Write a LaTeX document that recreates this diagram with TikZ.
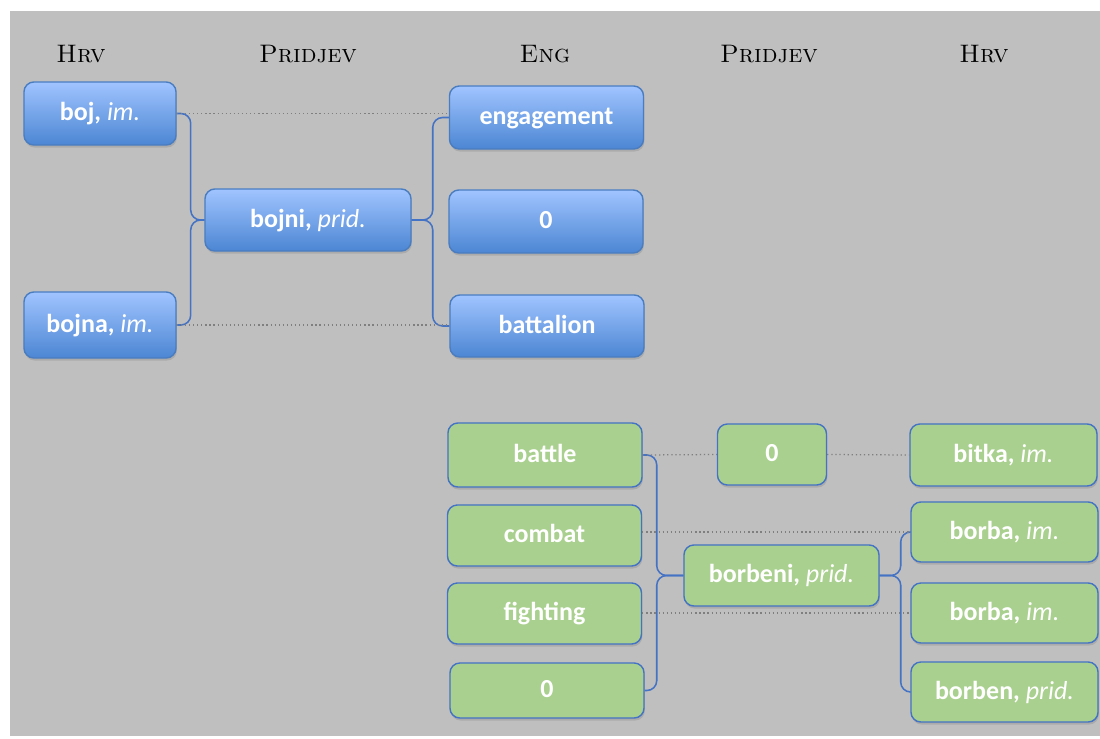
\documentclass[tikz,border=0pt]{standalone}
\usepackage{fontspec}
\newfontfamily\boxfont{Carlito}
\usepackage{xcolor}
\usepackage{tikz}
\usetikzlibrary{positioning,shadows,calc}
\definecolor{bggray}{HTML}{BFBFBF}
\definecolor{bluetop}{HTML}{A0C4FF}
\definecolor{bluebot}{HTML}{4C86D3}
\definecolor{blueedge}{HTML}{4A7DC0}
\definecolor{greenfill}{HTML}{A9D08E}
\definecolor{greenedge}{HTML}{4472C4}
\definecolor{linkblue}{HTML}{4472C4}
\definecolor{dotgray}{HTML}{7F7F7F}
\newcommand{\wclass}[1]{{\mdseries\itshape #1}}
\tikzset{
  wordbox/.style={
    rectangle, rounded corners=7pt, draw=#1, line width=1pt,
    font=\boxfont\bfseries\fontsize{18.5}{21}\selectfont,
    text=white, align=center, inner sep=2pt,
    text height=1.1em, text depth=0.1em,
    drop shadow={shadow xshift=0.6pt, shadow yshift=-1.8pt, opacity=0.3}
  },
  wordbox/.default=greenedge,
  bluebox/.style={
    wordbox=blueedge, top color=bluetop, bottom color=bluebot
  },
  greenbox/.style={
    wordbox=greenedge, fill=greenfill
  },
  colhead/.style={
    font=\fontsize{18}{21}\selectfont\scshape, text=black, anchor=base
  },
  linkline/.style={
    draw=linkblue, line width=1.1pt, rounded corners=7pt
  },
  gloss/.style={
    draw=dotgray, dotted, line width=0.9pt
  },
}

\begin{document}
\begin{tikzpicture}[x=0.025cm, y=-0.025cm,
  engcol/.style={minimum width=4.85cm, minimum height=1.55cm},
  hrvcol/.style={minimum width=4.675cm, minimum height=1.5cm}]

  \useasboundingbox (0,0) rectangle (1100,738);
  \fill[bggray] (10,11) rectangle (1100,736);

  % ── Column heads ────────────────
  \node[colhead] (hdrHrvA) at (81,62) {Hrv};
  \node[colhead] (hdrPridA) at (308,62) {Pridjev};
  \node[colhead] (hdrEng) at (545,62) {Eng};
  \node[colhead] (hdrPridB) at (769,62) {Pridjev};
  \node[colhead] (hdrHrvB) at (984,62) {Hrv};

  % ── boj / bojni ────────────────
  \node[bluebox, minimum width=3.8cm, minimum height=1.575cm] (boj)
    at (100,113.5) {boj, \wclass{im.}};
  \node[bluebox, minimum width=3.8cm, minimum height=1.65cm] (bojna)
    at (100,325) {bojna, \wclass{im.}};
  \node[bluebox, minimum width=5.15cm, minimum height=1.55cm] (bojni)
    at (308,220) {bojni, \wclass{prid.}};
  \node[bluebox, engcol, minimum height=1.575cm] (engagement)
    at (546.5,117.5) {engagement};
  \node[bluebox, engcol, minimum height=1.575cm] (zeroBlue)
    at (546,221.5) {0};
  \node[bluebox, engcol] (battalion) at (547,326) {battalion};

  \draw[linkline] (boj.east) -- ++(14,0) |- (bojni.west);
  \draw[linkline] (bojna.east) -- ++(14,0) |- (bojni.west);
  \draw[linkline] (bojni.east) -- ++(21,0) |- (engagement.west);
  \draw[linkline] (bojni.east) -- ++(21,0) |- (battalion.west);
  \draw[gloss] (boj.east) -- (boj.east -| engagement.west);
  \draw[gloss] (bojna.east) -- (bojna.east -| battalion.west);

  % ── borba / borbeni ────────────
  \node[greenbox, engcol, minimum height=1.6cm] (battle) at (545,455) {battle};
  \node[greenbox, engcol, minimum height=1.525cm] (combat) at (544.5,535.5) {combat};
  \node[greenbox, engcol, minimum height=1.525cm] (fighting) at (544.5,613.5) {fighting};
  \node[greenbox, engcol, minimum height=1.375cm] (zeroEng) at (547,690.5) {0};
  \node[greenbox, minimum width=2.725cm, minimum height=1.525cm] (zeroPrid)
    at (772,454.5) {0};
  \node[greenbox, minimum width=4.875cm, minimum height=1.525cm] (borbeni)
    at (781.5,575.5) {borbeni, \wclass{prid.}};
  \node[greenbox, hrvcol, minimum height=1.55cm] (bitka)
    at (1003.5,455) {bitka, \wclass{im.}};
  \node[greenbox, hrvcol] (borbaA) at (1004.5,532) {borba, \wclass{im.}};
  \node[greenbox, hrvcol] (borbaB) at (1004.5,613) {borba, \wclass{im.}};
  \node[greenbox, hrvcol] (borben) at (1004.5,692) {borben, \wclass{prid.}};

  \draw[linkline] (battle.east) -- ++(14,0) |- (borbeni.west);
  \draw[linkline] (zeroEng.east) -- ++(12,0) |- (borbeni.west);
  \draw[linkline] (borbeni.east) -- ++(21,0) |- (borbaA.west);
  \draw[linkline] (borbeni.east) -- ++(21,0) |- (borben.west);
  \draw[gloss] (battle.east) -- (zeroPrid.west);
  \draw[gloss] (zeroPrid.east) -- (bitka.west);
  \draw[gloss] (combat.east |- borbaA.west) -- (borbaA.west);
  \draw[gloss] (fighting.east |- borbaB.west) -- (borbaB.west);
\end{tikzpicture}
\end{document}
